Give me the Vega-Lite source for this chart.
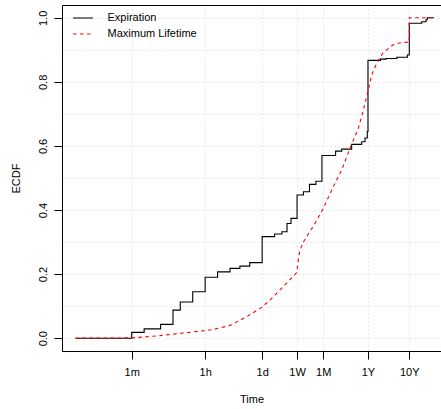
{
  "$schema": "https://vega.github.io/schema/vega-lite/v6.json",
  "width": 379,
  "height": 346,
  "autosize": {"type": "none"},
  "padding": {"left": 62, "top": 5, "right": 0, "bottom": 58},
  "config": {
    "view": {"stroke": null},
    "font": "Liberation Sans",
    "axis": {
      "domainColor": "black",
      "domainWidth": 1,
      "tickColor": "black",
      "tickWidth": 1,
      "labelColor": "black",
      "labelFont": "Liberation Sans",
      "labelFontSize": 11,
      "titleColor": "black",
      "titleFont": "Liberation Sans",
      "titleFontSize": 11,
      "titleFontWeight": "normal",
      "gridColor": "#d3d3d3",
      "gridDash": [1, 3],
      "gridWidth": 1
    },
    "legend": {
      "labelFont": "Liberation Sans",
      "labelFontSize": 11,
      "labelColor": "black"
    }
  },
  "data": {
    "values": [
      {"series": "Expiration", "t": 2.6, "p": 0},
      {"series": "Expiration", "t": 60, "p": 0.018},
      {"series": "Expiration", "t": 120, "p": 0.029},
      {"series": "Expiration", "t": 300, "p": 0.043},
      {"series": "Expiration", "t": 600, "p": 0.0875},
      {"series": "Expiration", "t": 900, "p": 0.113},
      {"series": "Expiration", "t": 1800, "p": 0.145},
      {"series": "Expiration", "t": 3600, "p": 0.19},
      {"series": "Expiration", "t": 7200, "p": 0.207},
      {"series": "Expiration", "t": 14400, "p": 0.218},
      {"series": "Expiration", "t": 25000, "p": 0.225},
      {"series": "Expiration", "t": 43200, "p": 0.236},
      {"series": "Expiration", "t": 86400, "p": 0.317},
      {"series": "Expiration", "t": 172800, "p": 0.325},
      {"series": "Expiration", "t": 259200, "p": 0.332},
      {"series": "Expiration", "t": 345600, "p": 0.358},
      {"series": "Expiration", "t": 432000, "p": 0.374},
      {"series": "Expiration", "t": 604800, "p": 0.447},
      {"series": "Expiration", "t": 864000, "p": 0.457},
      {"series": "Expiration", "t": 1209600, "p": 0.48},
      {"series": "Expiration", "t": 1728000, "p": 0.49},
      {"series": "Expiration", "t": 2419200, "p": 0.57},
      {"series": "Expiration", "t": 5184000, "p": 0.584},
      {"series": "Expiration", "t": 7300000, "p": 0.59},
      {"series": "Expiration", "t": 12700000, "p": 0.605},
      {"series": "Expiration", "t": 22200000, "p": 0.613},
      {"series": "Expiration", "t": 26700000, "p": 0.625},
      {"series": "Expiration", "t": 30360000, "p": 0.645},
      {"series": "Expiration", "t": 31536000, "p": 0.867},
      {"series": "Expiration", "t": 63072000, "p": 0.871},
      {"series": "Expiration", "t": 86000000, "p": 0.873},
      {"series": "Expiration", "t": 157680000, "p": 0.877},
      {"series": "Expiration", "t": 283824000, "p": 0.884},
      {"series": "Expiration", "t": 315360000, "p": 0.983},
      {"series": "Expiration", "t": 630720000, "p": 0.9875},
      {"series": "Expiration", "t": 800000000, "p": 0.994},
      {"series": "Expiration", "t": 860000000, "p": 1.0},
      {"series": "Expiration", "t": 1250000000, "p": 1.0},
      {"series": "Maximum Lifetime", "t": 2.6, "p": 0},
      {"series": "Maximum Lifetime", "t": 60, "p": 0.001},
      {"series": "Maximum Lifetime", "t": 126, "p": 0.004},
      {"series": "Maximum Lifetime", "t": 290, "p": 0.008},
      {"series": "Maximum Lifetime", "t": 886, "p": 0.015},
      {"series": "Maximum Lifetime", "t": 2700, "p": 0.022},
      {"series": "Maximum Lifetime", "t": 5670, "p": 0.027},
      {"series": "Maximum Lifetime", "t": 14400, "p": 0.04},
      {"series": "Maximum Lifetime", "t": 36500, "p": 0.067},
      {"series": "Maximum Lifetime", "t": 86400, "p": 0.097},
      {"series": "Maximum Lifetime", "t": 161000, "p": 0.129},
      {"series": "Maximum Lifetime", "t": 340000, "p": 0.172},
      {"series": "Maximum Lifetime", "t": 593000, "p": 0.205},
      {"series": "Maximum Lifetime", "t": 655000, "p": 0.25},
      {"series": "Maximum Lifetime", "t": 713000, "p": 0.275},
      {"series": "Maximum Lifetime", "t": 857000, "p": 0.3},
      {"series": "Maximum Lifetime", "t": 1500000, "p": 0.35},
      {"series": "Maximum Lifetime", "t": 2610000, "p": 0.405},
      {"series": "Maximum Lifetime", "t": 4560000, "p": 0.473},
      {"series": "Maximum Lifetime", "t": 7290000, "p": 0.525},
      {"series": "Maximum Lifetime", "t": 11570000, "p": 0.593},
      {"series": "Maximum Lifetime", "t": 18400000, "p": 0.655},
      {"series": "Maximum Lifetime", "t": 24300000, "p": 0.712},
      {"series": "Maximum Lifetime", "t": 32100000, "p": 0.775},
      {"series": "Maximum Lifetime", "t": 38800000, "p": 0.822},
      {"series": "Maximum Lifetime", "t": 51300000, "p": 0.858},
      {"series": "Maximum Lifetime", "t": 74100000, "p": 0.892},
      {"series": "Maximum Lifetime", "t": 129000000, "p": 0.916},
      {"series": "Maximum Lifetime", "t": 207000000, "p": 0.923},
      {"series": "Maximum Lifetime", "t": 298000000, "p": 0.924},
      {"series": "Maximum Lifetime", "t": 314000000, "p": 0.924},
      {"series": "Maximum Lifetime", "t": 315360000, "p": 1.0},
      {"series": "Maximum Lifetime", "t": 1200000000, "p": 1.0}
    ]
  },
  "encoding": {
    "y": {
      "field": "p",
      "type": "quantitative",
      "scale": {"domain": [-0.04, 1.04], "nice": false, "zero": false},
      "axis": {
        "title": "ECDF",
        "values": [0, 0.1, 0.2, 0.3, 0.4, 0.5, 0.6, 0.7, 0.8, 0.9, 1.0],
        "labelExpr": "round(datum.value * 10) % 2 == 0 ? format(datum.value, '.1f') : ''",
        "tickOpacity": {"condition": {"test": "round(datum.value * 10) % 2 == 0", "value": 1}, "value": 0},
        "tickSize": 8,
        "labelAngle": -90,
        "labelAlign": "center",
        "labelBaseline": "alphabetic",
        "labelPadding": 8,
        "titlePadding": 16,
        "grid": true,
        "domain": true,
        "labelOverlap": false,
        "labelFlush": false
      }
    },
    "color": {
      "field": "series",
      "type": "nominal",
      "scale": {"domain": ["Expiration", "Maximum Lifetime"], "range": ["black", "red"]},
      "legend": {
        "title": null,
        "orient": "none",
        "legendX": 10,
        "legendY": 2,
        "direction": "vertical",
        "symbolType": "stroke",
        "symbolSize": 400,
        "symbolStrokeWidth": 1.2,
        "labelOffset": 13.5,
        "rowPadding": -6,
        "padding": 0,
        "encode": {
          "symbols": {
            "update": {
              "strokeDash": {"signal": "datum.value === 'Maximum Lifetime' ? [3.5, 3.5] : [1, 0]"}
            }
          }
        }
      }
    }
  },
  "layer": [
    {
      "transform": [{"filter": "datum.series === 'Expiration'"}],
      "mark": {"type": "line", "interpolate": "step-after", "strokeWidth": 1.1},
      "encoding": {
        "x": {
          "field": "t",
          "type": "quantitative",
          "scale": {"type": "log", "domain": [1.232, 1848000000], "nice": false},
          "axis": {
            "orient": "bottom",
            "title": "Time",
            "values": [60, 3600, 86400, 604800, 2592000, 31536000, 315360000],
            "labelExpr": "datum.value == 60 ? '1m' : datum.value == 3600 ? '1h' : datum.value == 86400 ? '1d' : datum.value == 604800 ? '1W' : datum.value == 2592000 ? '1M' : datum.value == 31536000 ? '1Y' : '10Y'",
            "tickSize": 8,
            "labelPadding": 16.7,
            "labelBaseline": "alphabetic",
            "titlePadding": 16,
            "grid": true,
            "domain": true,
            "labelOverlap": false,
            "labelFlush": false
          }
        }
      }
    },
    {
      "transform": [{"filter": "datum.series === 'Maximum Lifetime'"}],
      "mark": {"type": "line", "strokeWidth": 1.1, "strokeDash": [3.5, 3.5]},
      "encoding": {
        "x": {
          "field": "t",
          "type": "quantitative",
          "scale": {"type": "log", "domain": [1.232, 1848000000], "nice": false},
          "axis": {
            "orient": "top",
            "title": null,
            "labels": false,
            "ticks": false,
            "grid": false,
            "domain": true
          }
        }
      }
    }
  ],
  "resolve": {"axis": {"x": "independent"}}
}
